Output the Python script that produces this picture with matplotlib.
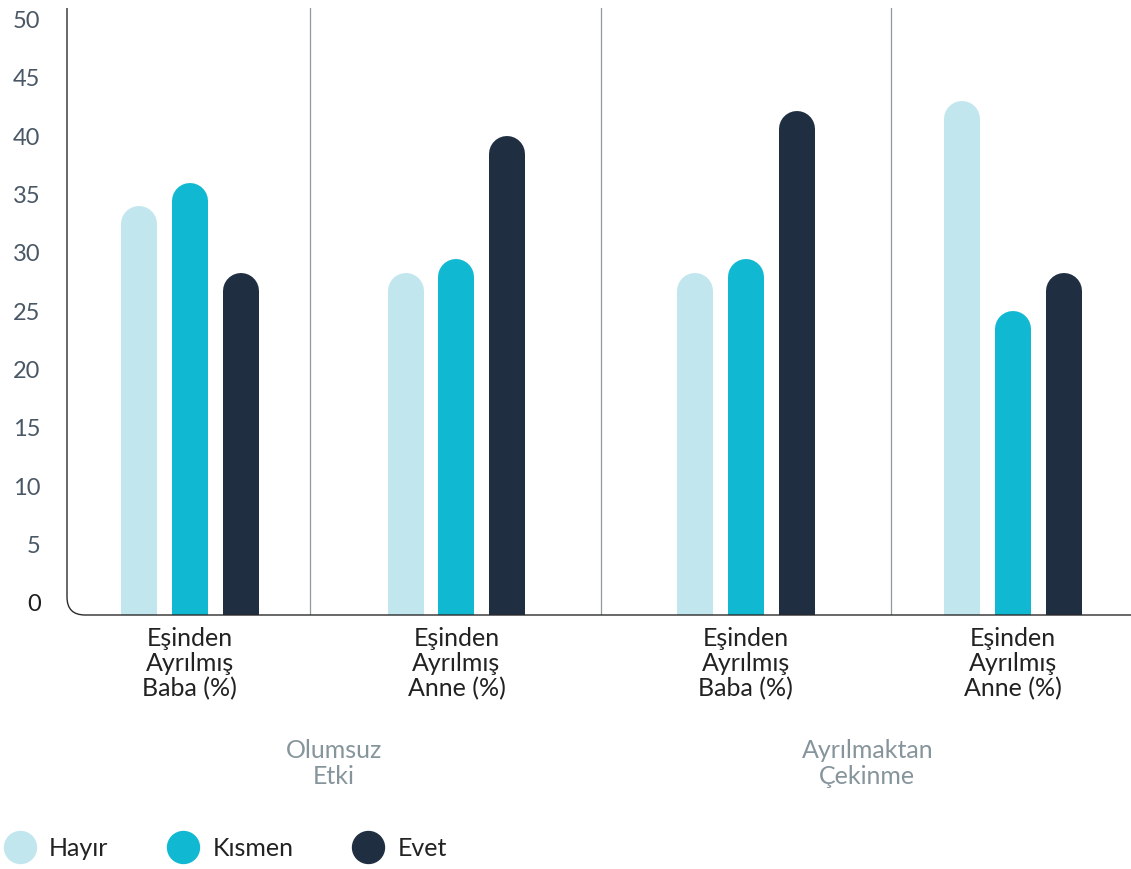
import matplotlib
matplotlib.use("Agg")
import matplotlib.pyplot as plt
from matplotlib.path import Path
from matplotlib.patches import PathPatch
from matplotlib.lines import Line2D
import numpy as np

plt.rcParams["font.family"] = ["Lato", "DejaVu Sans"]

# ── Data ──────────────────────────────────────────────────────────────────────
inner_labels = ["Eşinden\nAyrılmış\nBaba (%)", "Eşinden\nAyrılmış\nAnne (%)",
                "Eşinden\nAyrılmış\nBaba (%)", "Eşinden\nAyrılmış\nAnne (%)"]
outer_labels = ["Olumsuz\nEtki", "Ayrılmaktan\nÇekinme"]
series_names = ["Hayır", "Kısmen", "Evet"]
hayir  = [34.0, 28.3, 28.3, 43.0]
kismen = [36.0, 29.5, 29.5, 25.0]
evet   = [28.3, 40.0, 42.2, 28.3]
y_ticks = list(range(0, 55, 5))

# ── Style ─────────────────────────────────────────────────────────────────────
colors = ["#c1e6ee", "#10b9d1", "#202e42"]
centers = [0.46, 1.46, 2.545, 3.545]
separators = [0.91, 2.0, 3.09]
outer_centers = [1.0, 3.0]
offsets = [-0.191, 0.0, 0.191]
W, H = 1131, 869
bar_px = 36

fig = plt.figure(figsize=(W / 100, H / 100), dpi=100)
ax = fig.add_axes([67 / W, 1 - 615 / H, (1134 - 67) / W, 607 / H])
ax.set_xlim(0, 4)
ax.set_ylim(-1.03, 51.0)

# pixels per data unit on the y axis
px_per_unit = 607 / (51.0 + 1.03)
r_data = (bar_px / 2) / px_per_unit
lw_pt = bar_px * 72 / 100

for vals, off, col in zip([hayir, kismen, evet], offsets, colors):
    for c, v in zip(centers, vals):
        ax.plot([c + off, c + off], [-5, v - r_data], color=col, lw=lw_pt,
                solid_capstyle="round", zorder=3)

for s in separators:
    ax.axvline(s, color="#8f9a9f", lw=0.9, zorder=1)

for sp in ax.spines.values():
    sp.set_visible(False)

# left + bottom axis with rounded corner
rx, ry = 18 / 1067, 18 / 607
verts = [(0, 1), (0, ry), (0, 0), (rx, 0), (1.01, 0)]
codes = [Path.MOVETO, Path.LINETO, Path.CURVE3, Path.CURVE3, Path.LINETO]
ax.add_patch(PathPatch(Path(verts, codes), fill=False, edgecolor="#2b2b2b",
                       lw=1.0, transform=ax.transAxes, clip_on=False, zorder=4))

ax.set_yticks(y_ticks)
ax.set_yticklabels([str(t) for t in y_ticks])
ax.tick_params(axis="y", length=0, pad=19, labelsize=17, labelcolor="#4a5866")
for lbl in ax.get_yticklabels():
    lbl.set_horizontalalignment("right")
ax.get_yticklabels()[0].set_color("#1e1e1e")

ax.set_xticks(centers)
ax.set_xticklabels(inner_labels, fontsize=18, color="#222222", linespacing=1.08)
ax.tick_params(axis="x", length=0, pad=9)

for oc, ol in zip(outer_centers, outer_labels):
    ax.text(oc, -0.205, ol, transform=ax.get_xaxis_transform(), ha="center",
            va="top", fontsize=18, color="#86959c", linespacing=1.12)

handles = [Line2D([], [], marker="o", linestyle="none", markersize=23,
                  markerfacecolor=c, markeredgecolor=c) for c in colors]
fig.legend(handles, series_names, loc="center left",
           bbox_to_anchor=(3.75 / W, 1 - 848 / H), ncol=3, frameon=False,
           fontsize=18, handletextpad=0.51, columnspacing=2.35,
           labelcolor="#222222", handlelength=1.3, borderpad=0,
           borderaxespad=0)

fig.savefig("out.png", dpi=100, facecolor="white")
